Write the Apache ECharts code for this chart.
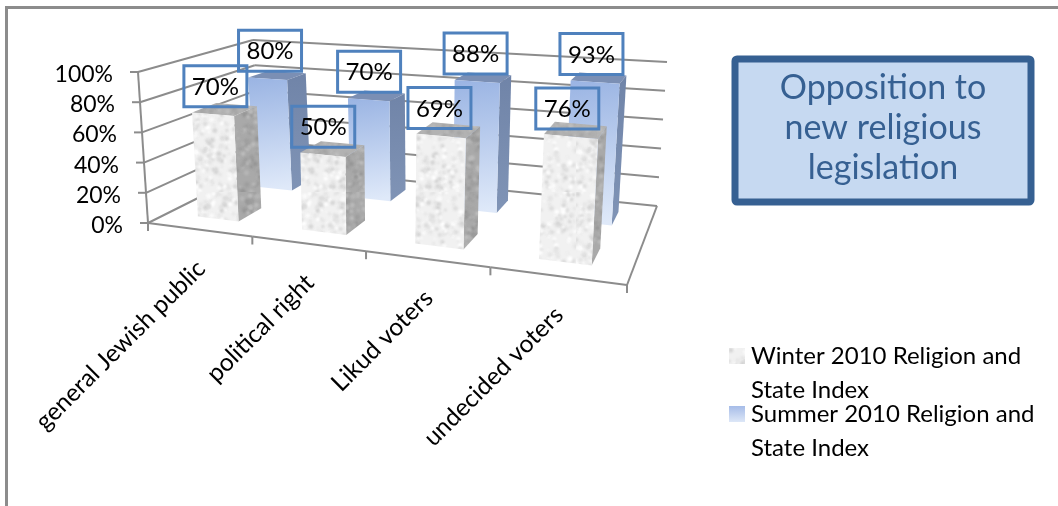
<!DOCTYPE html>
<html><head><meta charset="utf-8">
<style>html,body{margin:0;padding:0;background:#fff}#c{width:1058px;height:506px}</style>
<script src="https://cdn.jsdelivr.net/npm/echarts@6/dist/echarts.min.js"></script>
</head><body><div id="c"></div>
<script>
var categories = ['general Jewish public', 'political right', 'Likud voters', 'undecided voters'];
var winterValues = [70, 50, 69, 76];
var summerValues = [80, 70, 88, 93];
var yTicks = [0, 20, 40, 60, 80, 100];
var winterName = ['Winter 2010 Religion and', 'State Index'];
var summerName = ['Summer 2010 Religion and', 'State Index'];
var titleLines = ['Opposition to', 'new religious', 'legislation'];

var FONT = 'Lato, Carlito, "Open Sans", sans-serif';
var GRID = {left: 148, top: 72, width: 479, height: 152};
// camera: floor corners on screen, and the full-height vector at each of them
var floorQuad = [[148, 223], [627, 285], [657, 206], [262, 166]];
var riseFL = [-10, -151], riseFR = [10, -172], riseBR = [10, -144], riseBL = [-9, -126];

function homography(q) {
  var x0=q[0][0],y0=q[0][1],x1=q[1][0],y1=q[1][1],x2=q[2][0],y2=q[2][1],x3=q[3][0],y3=q[3][1];
  var dx1=x1-x2,dx2=x3-x2,sx=x0-x1+x2-x3,dy1=y1-y2,dy2=y3-y2,sy=y0-y1+y2-y3;
  var den=dx1*dy2-dx2*dy1;
  var g=(sx*dy2-dx2*sy)/den,h=(dx1*sy-sx*dy1)/den;
  var a=x1-x0+g*x1,b=x3-x0+h*x3,d=y1-y0+g*y1,e=y3-y0+h*y3;
  return function(u,w){var k=g*u+h*w+1;return [(a*u+b*w+x0)/k,(d*u+e*w+y0)/k];};
}
var Hf = homography(floorQuad);
function rise(u, d, k) {
  return (riseFL[k]*(1-u)+riseFR[k]*u)*(1-d) + (riseBL[k]*(1-u)+riseBR[k]*u)*d;
}
function project(u, depth, v) {
  var p = Hf(u, depth);
  return [p[0] + rise(u, depth, 0)*v, p[1] + rise(u, depth, 1)*v];
}
function normU(x) { return (x - GRID.left) / GRID.width; }
function normV(y) { return (GRID.top + GRID.height - y) / GRID.height; }

function makeTexture(base, spots, seed) {
  var c = document.createElement('canvas'); c.width = c.height = 96;
  var g = c.getContext('2d');
  g.fillStyle = base; g.fillRect(0, 0, 96, 96);
  var s = seed;
  function next() { s = (s * 16807) % 2147483647; return s / 2147483647; }
  try { g.filter = 'blur(0.9px)'; } catch (e) {}
  for (var i = 0; i < 420; i++) {
    g.fillStyle = spots[Math.floor(next() * spots.length)];
    g.beginPath();
    g.arc(next() * 96, next() * 96, 0.7 + next() * 1.9, 0, Math.PI * 2);
    g.fill();
  }
  return {image: c, repeat: 'repeat'};
}
var winterFront = makeTexture('#f1f1f1', ['#dcdcdc', '#e4e4e4', '#fbfbfb', '#ffffff', '#d4d4d4'], 12345);
var winterSide = makeTexture('#a9a9a9', ['#969696', '#9d9d9d', '#b6b6b6', '#bdbdbd'], 777);
var winterTop = makeTexture('#b2b2b2', ['#a4a4a4', '#bebebe'], 4242);
var summerFront = new echarts.graphic.LinearGradient(0, 0, 0.35, 1, [{offset: 0, color: '#9ab4e3'}, {offset: 1, color: '#dfe9f9'}]);
var summerSide = new echarts.graphic.LinearGradient(0, 0, 0, 1, [{offset: 0, color: '#7084a8'}, {offset: 1, color: '#8094b6'}]);
var summerTop = '#7b8fb4';
var legendSummer = new echarts.graphic.LinearGradient(0, 0, 0, 1, [{offset: 0, color: '#a6bce8'}, {offset: 1, color: '#dde7f7'}]);

var GRID_LINE = '#8c8c8c';
function line(a, b, w) {
  return {type: 'line', shape: {x1: a[0], y1: a[1], x2: b[0], y2: b[1]}, style: {stroke: GRID_LINE, lineWidth: w || 2}, silent: true};
}
function label(text, x, y, align, rot, size) {
  return {type: 'text', x: x, y: y, rotation: rot || 0, silent: true,
    style: {text: text, x: 0, y: 0, fill: '#000', font: (size || 24) + 'px ' + FONT, align: align, verticalAlign: 'middle'}};
}
function poly(points, fill) {
  return {type: 'polygon', shape: {points: points}, style: {fill: fill, stroke: null}, silent: true};
}

function wallItem(params, api) {
  var tick = api.value(1);
  var v = normV(api.coord([0, tick])[1]);
  var a = project(0, 0, v), b = project(0, 1, v), c = project(1, 1, v);
  var kids = [
    line(a, b), line(b, c),
    line([a[0] - 8, a[1]], a),
    label(tick + '%', a[0] - 25, a[1] + 2.5, 'right', 0, 23)
  ];
  if (tick === 0) kids.push(line(project(0, 0, 1), a));
  return {type: 'group', children: kids};
}
function floorItem(params, api) {
  var i = api.value(0);
  var bw = api.size([1, 0])[0];
  var cx = normU(api.coord([i, 0])[0]);
  var du = bw / GRID.width;
  var l = project(cx - du / 2, 0, 0), r = project(cx + du / 2, 0, 0), mid = project(cx, 0, 0);
  var kids = [line(l, r), line(l, [l[0], l[1] + 8]),
    label(categories[i], mid[0] + 2, mid[1] + 35, 'right', Math.PI / 4, 24.5)];
  if (i === categories.length - 1) {
    kids.push(line(r, [r[0], r[1] + 8]));
    kids.push(line(r, project(1, 1, 0)));
  }
  return {type: 'group', children: kids};
}
var BAR_FRACTION = 0.4, BAR_DEPTH = 0.2;
function barItem(dMid, front, side, top) {
  return function (params, api) {
    var i = api.value(0), val = api.value(1);
    var pt = api.coord([i, val]);
    var du = api.size([1, 0])[0] / GRID.width * BAR_FRACTION;
    var u0 = normU(pt[0]) - du / 2, u1 = u0 + du, v = normV(pt[1]);
    var d0 = dMid - BAR_DEPTH / 2, d1 = dMid + BAR_DEPTH / 2;
    return {type: 'group', children: [
      poly([project(u0, d0, v), project(u1, d0, v), project(u1, d1, v), project(u0, d1, v)], top),
      poly([project(u1, d0, 0), project(u1, d1, 0), project(u1, d1, v), project(u1, d0, v)], side),
      poly([project(u0, d0, 0), project(u1, d0, 0), project(u1, d0, v), project(u0, d0, v)], front)
    ]};
  };
}
function boxItem(dMid) {
  return function (params, api) {
    var i = api.value(0), val = api.value(1);
    var pt = api.coord([i, val]);
    var u = normU(pt[0]);
    var c = project(u, dMid - BAR_DEPTH / 2, normV(pt[1]));
    var bx = c[0] + 3.5 - 8 * u, by = c[1] - 28;
    return {type: 'group', children: [
      {type: 'rect', shape: {x: bx - 31.5, y: by - 20.5, width: 63, height: 41},
        style: {fill: 'none', stroke: '#4f81bd', lineWidth: 3}, silent: true},
      label(val + '%', bx, by + 1, 'center')
    ]};
  };
}
function rows(vals) { return vals.map(function (v, i) { return [i, v]; }); }

function legendEntry(y, lines, fill) {
  var out = [{type: 'rect', x: 729, y: y, shape: {width: 16, height: 16}, style: {fill: fill}}];
  lines.forEach(function (t, k) {
    out.push({type: 'text', x: 751, y: y + 8 + k * 34,
      style: {text: t, x: 0, y: 0, fill: '#000', font: '24px ' + FONT, verticalAlign: 'middle'}});
  });
  return out;
}
var graphics = [
  {type: 'rect', x: 5, y: 6, shape: {width: 1053, height: 3}, style: {fill: '#8c8c8c'}},
  {type: 'rect', x: 5, y: 6, shape: {width: 3, height: 500}, style: {fill: '#8c8c8c'}},
  {type: 'rect', x: 735, y: 59, shape: {width: 296, height: 143, r: 2},
    style: {fill: '#c6d9f1', stroke: '#366092', lineWidth: 7}}
].concat(titleLines.map(function (t, k) {
  return {type: 'text', x: 883, y: 88 + k * 40,
    style: {text: t, x: 0, y: 0, fill: '#366092', font: '34px ' + FONT, align: 'center', verticalAlign: 'middle'}};
})).concat(legendEntry(348, winterName, winterFront)).concat(legendEntry(406, summerName, legendSummer));

var chart = echarts.init(document.getElementById('c'), null, {renderer: 'canvas'});
chart.setOption({
  animation: false,
  backgroundColor: '#fff',
  grid: {left: GRID.left, top: GRID.top, width: GRID.width, height: GRID.height, containLabel: false},
  xAxis: {type: 'category', data: categories, show: false},
  yAxis: {type: 'value', min: 0, max: 100, interval: 20, show: false},
  graphic: graphics,
  series: [
    {type: 'custom', name: 'walls', z: 1, data: yTicks.map(function (t) { return [0, t]; }), encode: {x: 0, y: 1}, renderItem: wallItem, silent: true},
    {type: 'custom', name: 'floor', z: 1, data: rows(categories.map(function () { return 0; })), encode: {x: 0, y: 1}, renderItem: floorItem, silent: true},
    {type: 'custom', name: summerName.join(' '), z: 2, data: rows(summerValues), encode: {x: 0, y: 1}, renderItem: barItem(0.75, summerFront, summerSide, summerTop), silent: true},
    {type: 'custom', name: winterName.join(' '), z: 3, data: rows(winterValues), encode: {x: 0, y: 1}, renderItem: barItem(0.25, winterFront, winterSide, winterTop), silent: true},
    {type: 'custom', name: 'summer labels', z: 4, data: rows(summerValues), encode: {x: 0, y: 1}, renderItem: boxItem(0.75), silent: true},
    {type: 'custom', name: 'winter labels', z: 5, data: rows(winterValues), encode: {x: 0, y: 1}, renderItem: boxItem(0.25), silent: true}
  ]
});
</script></body></html>
